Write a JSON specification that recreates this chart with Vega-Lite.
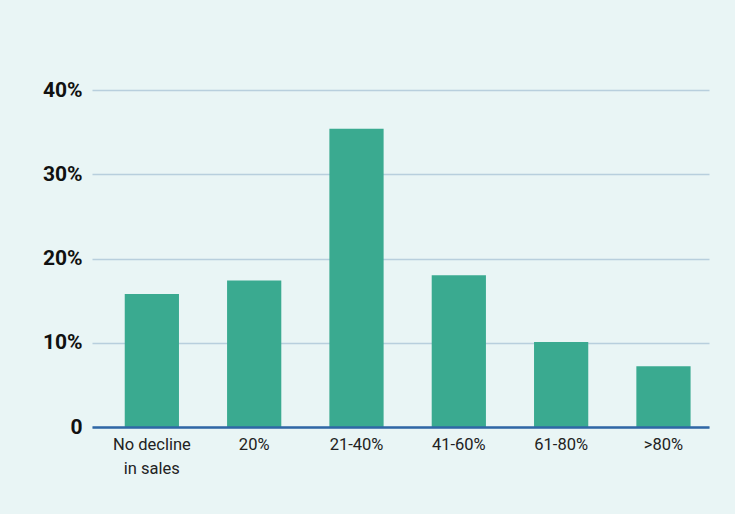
{
  "$schema": "https://vega.github.io/schema/vega-lite/v6.json",
  "width": 617,
  "height": 337,
  "autosize": {"type": "none"},
  "padding": {"left": 92, "top": 90, "right": 26, "bottom": 87},
  "background": "#e9f5f5",
  "config": {"view": {"stroke": null}, "font": "Roboto"},
  "data": {
    "values": [
      {"category": "No decline in sales", "share": 0.158},
      {"category": "20%", "share": 0.174},
      {"category": "21-40%", "share": 0.354},
      {"category": "41-60%", "share": 0.18},
      {"category": "61-80%", "share": 0.101},
      {"category": ">80%", "share": 0.072}
    ]
  },
  "mark": {"type": "bar", "color": "#3aaa90"},
  "encoding": {
    "x": {
      "field": "category",
      "type": "nominal",
      "sort": null,
      "scale": {"paddingInner": 0.47, "paddingOuter": 0.25, "align": 0.64},
      "axis": {
        "title": null,
        "labelAngle": 0,
        "labelFont": "Roboto",
        "labelFontSize": 16.5,
        "labelColor": "#222222",
        "labelPadding": 9,
        "labelLineHeight": 24,
        "labelExpr": "datum.value == 'No decline in sales' ? ['No decline', 'in sales'] : datum.value",
        "ticks": false,
        "domainColor": "#2f67a6",
        "domainWidth": 2.5,
        "domainCap": "butt",
        "zindex": 1
      }
    },
    "y": {
      "field": "share",
      "type": "quantitative",
      "scale": {"domain": [0, 0.4], "nice": false},
      "axis": {
        "title": null,
        "values": [0, 0.1, 0.2, 0.3, 0.4],
        "labelExpr": "datum.value == 0 ? '0' : format(datum.value, '.0%')",
        "labelFont": "Roboto",
        "labelFontSize": 21,
        "labelFontWeight": "bold",
        "labelColor": "#111111",
        "labelPadding": 10,
        "ticks": false,
        "domain": false,
        "gridColor": "#b8cfdd",
        "gridWidth": 1.5
      }
    }
  }
}
